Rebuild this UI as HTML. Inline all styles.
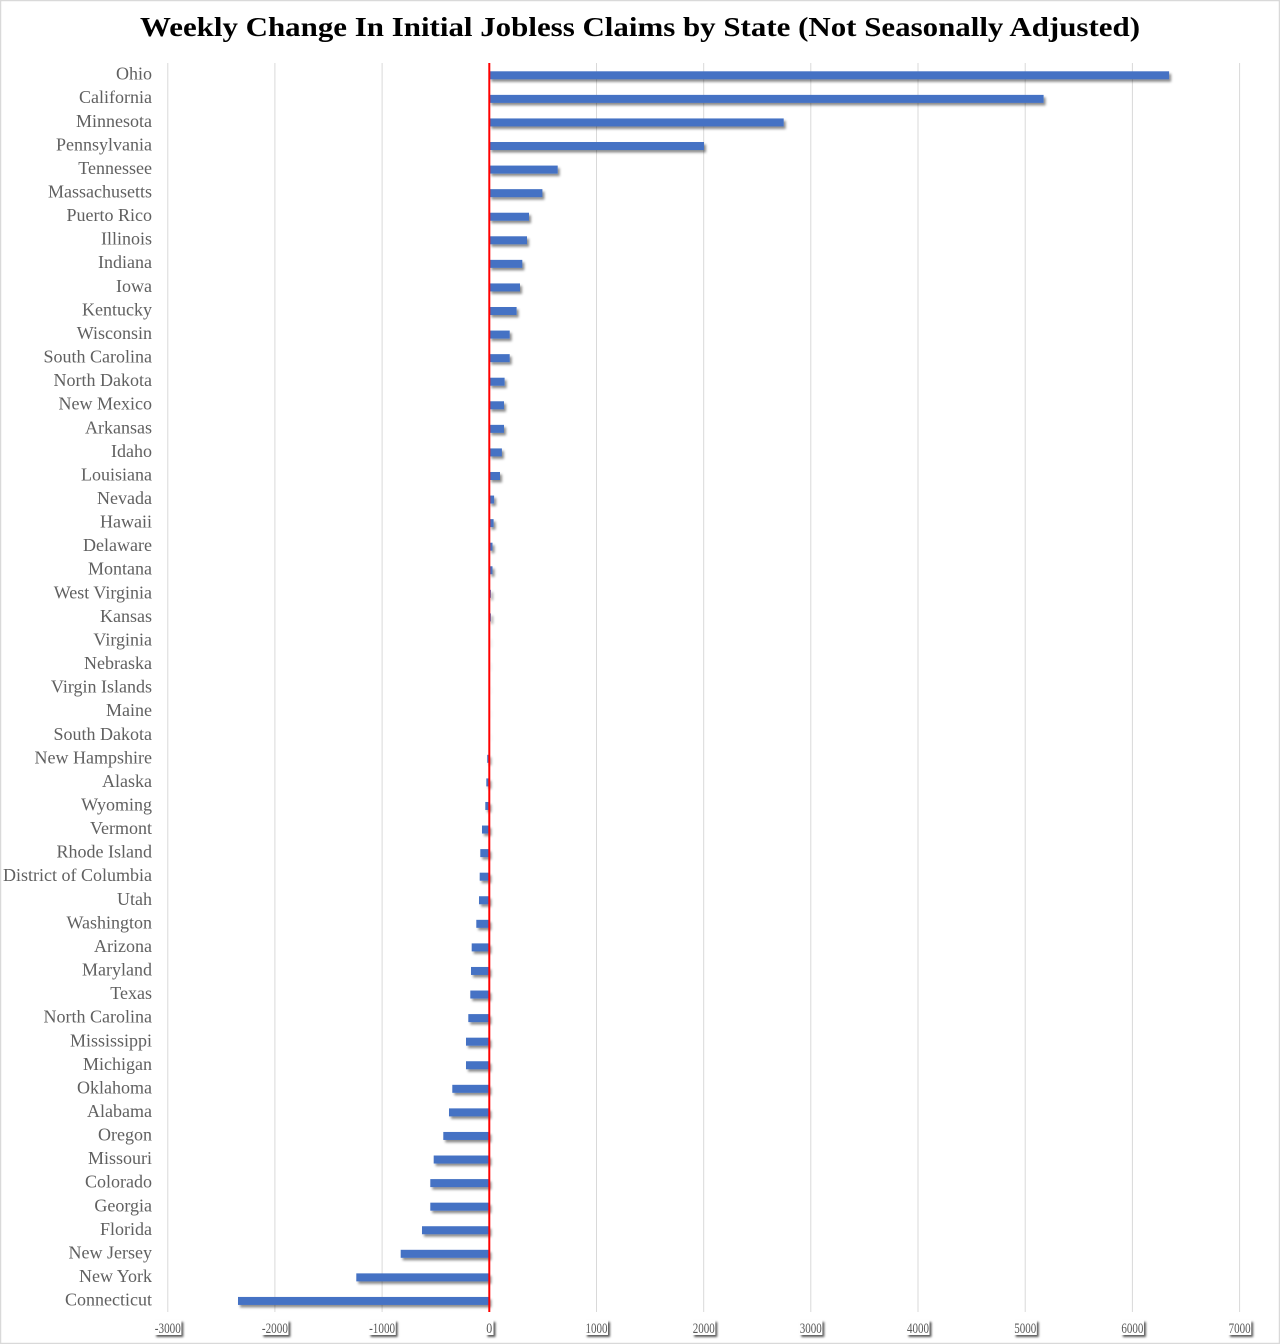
<!DOCTYPE html>
<html><head><meta charset="utf-8"><style>
html,body{margin:0;padding:0;background:#fff;}
svg{display:block;}
.lab{font-family:"Liberation Serif",serif;font-size:18px;fill:#606060;text-anchor:end;}
.tk{font-family:"Liberation Serif",serif;font-size:15px;fill:#595959;text-anchor:middle;}
.g{stroke:#d9d9d9;stroke-width:1;}
.b{fill:#4472c4;}
</style></head><body>
<svg width="1280" height="1344" viewBox="0 0 1280 1344" xmlns="http://www.w3.org/2000/svg">
<defs>
<filter id="sh" x="-20%" y="-50%" width="140%" height="250%"><feDropShadow dx="2" dy="2.5" stdDeviation="1.4" flood-color="#000" flood-opacity="0.45"/></filter>
<filter id="ts" x="-30%" y="-40%" width="160%" height="190%"><feDropShadow dx="2" dy="2" stdDeviation="1" flood-color="#000" flood-opacity="0.65"/></filter>
</defs>
<rect x="0.5" y="0.5" width="1279" height="1343" fill="#fff" stroke="#d9d9d9" stroke-width="1.5"/>
<text x="640" y="36" text-anchor="middle" font-family="'Liberation Serif',serif" font-weight="bold" font-size="27" fill="#000" textLength="1000" lengthAdjust="spacingAndGlyphs">Weekly Change In Initial Jobless Claims by State (Not Seasonally Adjusted)</text>
<!-- grid -->
<g class="g">
<line x1="167.8" y1="63" x2="167.8" y2="1312"/>
<line x1="274.9" y1="63" x2="274.9" y2="1312"/>
<line x1="382.1" y1="63" x2="382.1" y2="1312"/>
<line x1="596.5" y1="63" x2="596.5" y2="1312"/>
<line x1="703.7" y1="63" x2="703.7" y2="1312"/>
<line x1="810.8" y1="63" x2="810.8" y2="1312"/>
<line x1="918.0" y1="63" x2="918.0" y2="1312"/>
<line x1="1025.2" y1="63" x2="1025.2" y2="1312"/>
<line x1="1132.4" y1="63" x2="1132.4" y2="1312"/>
<line x1="1239.6" y1="63" x2="1239.6" y2="1312"/>
</g>
<!-- bars -->
<g class="b" filter="url(#sh)">
<rect x="489.3" y="71.3" width="679.8" height="8"/>
<rect x="489.3" y="94.87" width="554.3" height="8"/>
<rect x="489.3" y="118.44" width="294.4" height="8"/>
<rect x="489.3" y="142.01" width="214.7" height="8"/>
<rect x="489.3" y="165.58" width="68.4" height="8"/>
<rect x="489.3" y="189.15" width="53.1" height="8"/>
<rect x="489.3" y="212.72" width="39.7" height="8"/>
<rect x="489.3" y="236.29" width="37.7" height="8"/>
<rect x="489.3" y="259.86" width="33.0" height="8"/>
<rect x="489.3" y="283.43" width="30.7" height="8"/>
<rect x="489.3" y="307.0" width="27.3" height="8"/>
<rect x="489.3" y="330.57" width="20.4" height="8"/>
<rect x="489.3" y="354.14" width="20.4" height="8"/>
<rect x="489.3" y="377.71" width="15.3" height="8"/>
<rect x="489.3" y="401.28" width="14.7" height="8"/>
<rect x="489.3" y="424.85" width="14.7" height="8"/>
<rect x="489.3" y="448.42" width="12.6" height="8"/>
<rect x="489.3" y="471.99" width="10.7" height="8"/>
<rect x="489.3" y="495.56" width="4.8" height="8"/>
<rect x="489.3" y="519.13" width="4.3" height="8"/>
<rect x="489.3" y="542.7" width="3.2" height="8"/>
<rect x="489.3" y="566.27" width="3.2" height="8"/>
<rect x="489.3" y="589.84" width="1.6" height="8"/>
<rect x="489.3" y="613.41" width="1.6" height="8"/>
<rect x="489.3" y="636.98" width="0.3" height="8"/>
<rect x="489.3" y="660.55" width="0.2" height="8"/>
<rect x="489.3" y="684.12" width="0.1" height="8"/>
<rect x="489.3" y="707.69" width="0.1" height="8"/>
<rect x="489.3" y="731.26" width="0.1" height="8"/>
<rect x="487.2" y="754.83" width="2.1" height="8"/>
<rect x="486.3" y="778.4" width="3.0" height="8"/>
<rect x="485.3" y="801.97" width="4.0" height="8"/>
<rect x="482.0" y="825.54" width="7.3" height="8"/>
<rect x="480.3" y="849.11" width="9.0" height="8"/>
<rect x="479.7" y="872.68" width="9.6" height="8"/>
<rect x="479.0" y="896.25" width="10.3" height="8"/>
<rect x="476.3" y="919.82" width="13.0" height="8"/>
<rect x="471.7" y="943.39" width="17.6" height="8"/>
<rect x="471.0" y="966.96" width="18.3" height="8"/>
<rect x="470.3" y="990.53" width="19.0" height="8"/>
<rect x="468.3" y="1014.1" width="21.0" height="8"/>
<rect x="466.0" y="1037.67" width="23.3" height="8"/>
<rect x="466.0" y="1061.24" width="23.3" height="8"/>
<rect x="452.3" y="1084.81" width="37.0" height="8"/>
<rect x="449.0" y="1108.38" width="40.3" height="8"/>
<rect x="443.3" y="1131.95" width="46.0" height="8"/>
<rect x="433.7" y="1155.52" width="55.6" height="8"/>
<rect x="430.3" y="1179.09" width="59.0" height="8"/>
<rect x="430.3" y="1202.66" width="59.0" height="8"/>
<rect x="422.0" y="1226.23" width="67.3" height="8"/>
<rect x="400.7" y="1249.8" width="88.6" height="8"/>
<rect x="356.3" y="1273.37" width="133.0" height="8"/>
<rect x="238.0" y="1296.94" width="251.3" height="8"/>
</g>
<!-- zero line -->
<rect x="488.3" y="63" width="2" height="1249" fill="#ff0000"/>
<!-- labels -->
<g class="lab">
<text x="152" y="79.6">Ohio</text>
<text x="152" y="103.18">California</text>
<text x="152" y="126.75">Minnesota</text>
<text x="152" y="150.33">Pennsylvania</text>
<text x="152" y="173.91">Tennessee</text>
<text x="152" y="197.49">Massachusetts</text>
<text x="152" y="221.06">Puerto Rico</text>
<text x="152" y="244.64">Illinois</text>
<text x="152" y="268.22">Indiana</text>
<text x="152" y="291.79">Iowa</text>
<text x="152" y="315.37">Kentucky</text>
<text x="152" y="338.95">Wisconsin</text>
<text x="152" y="362.52">South Carolina</text>
<text x="152" y="386.10">North Dakota</text>
<text x="152" y="409.68">New Mexico</text>
<text x="152" y="433.26">Arkansas</text>
<text x="152" y="456.83">Idaho</text>
<text x="152" y="480.41">Louisiana</text>
<text x="152" y="503.99">Nevada</text>
<text x="152" y="527.56">Hawaii</text>
<text x="152" y="551.14">Delaware</text>
<text x="152" y="574.72">Montana</text>
<text x="152" y="598.29">West Virginia</text>
<text x="152" y="621.87">Kansas</text>
<text x="152" y="645.45">Virginia</text>
<text x="152" y="669.03">Nebraska</text>
<text x="152" y="692.60">Virgin Islands</text>
<text x="152" y="716.18">Maine</text>
<text x="152" y="739.76">South Dakota</text>
<text x="152" y="763.33">New Hampshire</text>
<text x="152" y="786.91">Alaska</text>
<text x="152" y="810.49">Wyoming</text>
<text x="152" y="834.06">Vermont</text>
<text x="152" y="857.64">Rhode Island</text>
<text x="152" y="881.22">District of Columbia</text>
<text x="152" y="904.80">Utah</text>
<text x="152" y="928.37">Washington</text>
<text x="152" y="951.95">Arizona</text>
<text x="152" y="975.53">Maryland</text>
<text x="152" y="999.10">Texas</text>
<text x="152" y="1022.68">North Carolina</text>
<text x="152" y="1046.26">Mississippi</text>
<text x="152" y="1069.83">Michigan</text>
<text x="152" y="1093.41">Oklahoma</text>
<text x="152" y="1116.99">Alabama</text>
<text x="152" y="1140.57">Oregon</text>
<text x="152" y="1164.14">Missouri</text>
<text x="152" y="1187.72">Colorado</text>
<text x="152" y="1211.30">Georgia</text>
<text x="152" y="1234.87">Florida</text>
<text x="152" y="1258.45">New Jersey</text>
<text x="152" y="1282.03">New York</text>
<text x="152" y="1305.60">Connecticut</text>
</g>
<!-- tick label boxes -->
<g fill="#fff" filter="url(#ts)">
<rect x="154.3" y="1320" width="27" height="15"/>
<rect x="261.4" y="1320" width="27" height="15"/>
<rect x="368.6" y="1320" width="27" height="15"/>
<rect x="485.5" y="1320" width="8" height="15"/>
<rect x="585" y="1320" width="23" height="15"/>
<rect x="692.2" y="1320" width="23" height="15"/>
<rect x="799.3" y="1320" width="23" height="15"/>
<rect x="906.5" y="1320" width="23" height="15"/>
<rect x="1013.7" y="1320" width="23" height="15"/>
<rect x="1120.9" y="1320" width="23" height="15"/>
<rect x="1228.1" y="1320" width="23" height="15"/>
</g>
<g class="tk">
<text x="167.8" y="1333" textLength="26" lengthAdjust="spacingAndGlyphs">-3000</text>
<text x="274.9" y="1333" textLength="26" lengthAdjust="spacingAndGlyphs">-2000</text>
<text x="382.1" y="1333" textLength="26" lengthAdjust="spacingAndGlyphs">-1000</text>
<text x="489.3" y="1333" textLength="6" lengthAdjust="spacingAndGlyphs">0</text>
<text x="596.5" y="1333" textLength="22" lengthAdjust="spacingAndGlyphs">1000</text>
<text x="703.7" y="1333" textLength="22" lengthAdjust="spacingAndGlyphs">2000</text>
<text x="810.8" y="1333" textLength="22" lengthAdjust="spacingAndGlyphs">3000</text>
<text x="918.0" y="1333" textLength="22" lengthAdjust="spacingAndGlyphs">4000</text>
<text x="1025.2" y="1333" textLength="22" lengthAdjust="spacingAndGlyphs">5000</text>
<text x="1132.4" y="1333" textLength="22" lengthAdjust="spacingAndGlyphs">6000</text>
<text x="1239.6" y="1333" textLength="22" lengthAdjust="spacingAndGlyphs">7000</text>
</g>
</svg>
</body></html>
